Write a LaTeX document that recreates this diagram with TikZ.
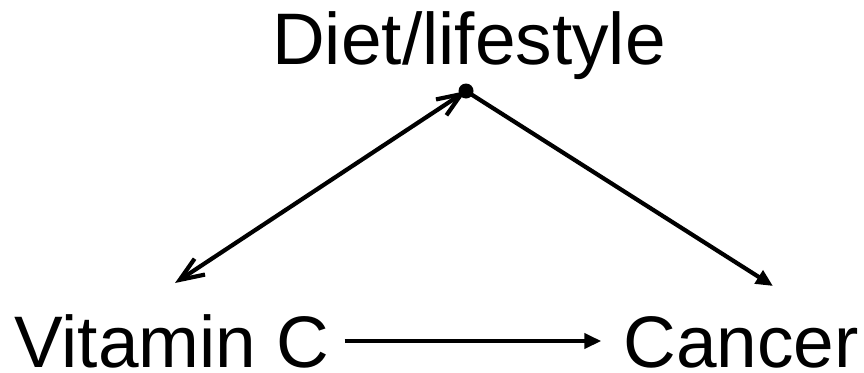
\documentclass[tikz,border=0pt]{standalone}
\usepackage{fontspec}
\setmainfont{Liberation Sans}
\usetikzlibrary{positioning, arrows.meta}

\begin{document}
\begin{tikzpicture}[
    x=1pt, y=-1pt,
    var/.style={inner sep=0pt, font=\fontsize{73}{80}\selectfont},
    arrow/.style={-{Triangle[length=17pt, width=15pt]}, line width=4.2pt},
    assoc/.style={{Straight Barb[length=24pt, width=19pt, line width=4.2pt]}-{Straight Barb[length=24pt, width=19pt, line width=4.2pt]}, line width=4.2pt}
]
\useasboundingbox (0,0) rectangle (864,372);

\node[var, anchor=base] (diet) at (469,64) {Diet/lifestyle};
\node[var, anchor=base west] (vitc) at (14,367) {Vitamin C};
\node[var, anchor=base east] (cancer) at (859,367) {Cancer};

\node[circle, fill, inner sep=0pt, minimum size=15pt] (apex) at (466,91) {};
\coordinate (vitend) at (175,283);
\coordinate (canend) at (773,286);

\draw[assoc] (apex.center) -- (vitend);
\draw[arrow] (apex.center) -- (canend);
\draw[arrow, shorten <=15pt, shorten >=22pt] (vitc.east |- 0,341) -- (cancer.west |- 0,341);
\end{tikzpicture}
\end{document}
